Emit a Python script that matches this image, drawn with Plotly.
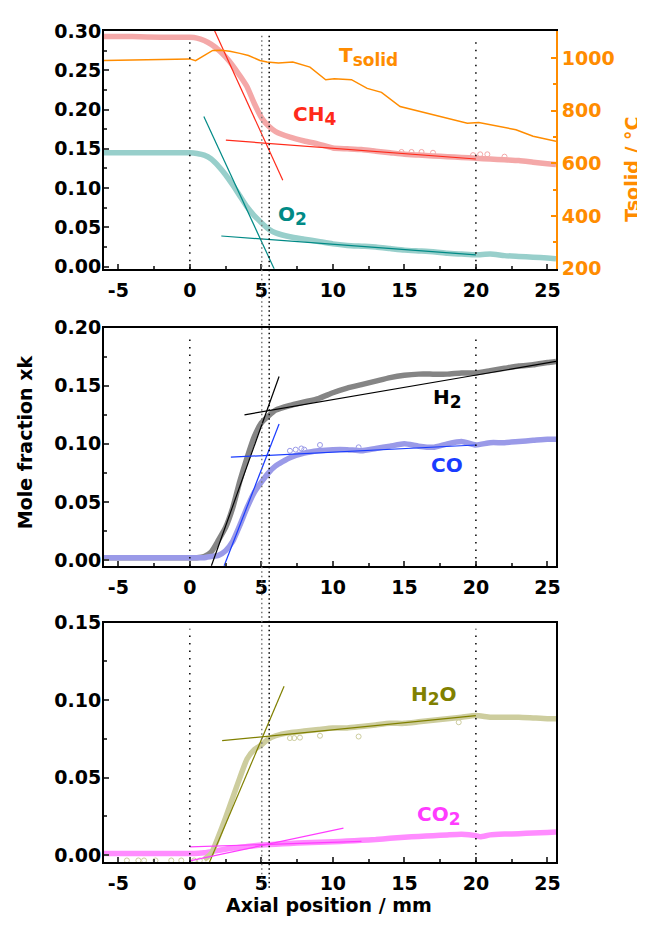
import plotly.graph_objects as go

# ---------------- data ----------------
# top panel: CH4, O2 mole fractions and solid temperature
x_top = [-6, -4, -2, 0, 0.5, 1, 1.5, 2, 2.5, 3, 3.5, 4, 4.5, 5, 5.5, 6, 7, 8, 9, 10,
         11, 12, 13, 14, 15, 16, 17, 18, 19, 20, 21, 22, 23, 24, 25, 25.6]
ch4 = [0.293, 0.293, 0.292, 0.292, 0.291, 0.288, 0.283, 0.276, 0.267, 0.256, 0.243, 0.229,
       0.208, 0.190, 0.179, 0.172, 0.165, 0.160, 0.156, 0.151, 0.150, 0.149, 0.147, 0.145,
       0.143, 0.142, 0.141, 0.140, 0.139, 0.138, 0.137, 0.136, 0.135, 0.133, 0.131, 0.130]
o2 = [0.145, 0.145, 0.145, 0.145, 0.144, 0.142, 0.137, 0.128, 0.117, 0.104, 0.090, 0.076,
      0.065, 0.056, 0.048, 0.043, 0.038, 0.035, 0.032, 0.029, 0.027, 0.026, 0.025, 0.023,
      0.021, 0.020, 0.019, 0.017, 0.016, 0.015, 0.016, 0.014, 0.013, 0.012, 0.011, 0.010]
x_t = [-6, -3, 0, 0.4, 1, 1.6, 2.2, 2.8, 3.5, 4.1, 4.9, 5.4, 6.2, 7.2, 8.4, 9.1, 9.5, 10.1,
       11.3, 12.4, 13.4, 14.7, 17.1, 19.4, 20.2, 21.7, 22.8, 24.0, 25.6]
t_solid = [991, 993, 997, 990, 1010, 1029, 1030, 1026, 1018, 1010, 991, 985, 981, 985, 966,
           935, 918, 922, 918, 885, 870, 816, 785, 753, 755, 741, 728, 703, 684]

# middle panel: H2 and CO
x_mid = [-6, -3, 0, 0.5, 1, 1.5, 2, 2.5, 3, 3.5, 4, 4.5, 5, 5.5, 6, 7, 8, 9, 10, 11, 12,
         13, 14, 15, 16, 17, 18, 19, 20, 21, 22, 23, 24, 25, 25.6]
h2 = [0.002, 0.002, 0.002, 0.002, 0.003, 0.007, 0.017, 0.028, 0.045, 0.068, 0.088, 0.106,
      0.118, 0.124, 0.129, 0.133, 0.136, 0.139, 0.144, 0.148, 0.151, 0.154, 0.157, 0.159,
      0.160, 0.160, 0.160, 0.161, 0.161, 0.163, 0.165, 0.167, 0.168, 0.170, 0.171]
co = [0.002, 0.002, 0.002, 0.002, 0.002, 0.003, 0.004, 0.008, 0.016, 0.030, 0.045, 0.058,
      0.067, 0.075, 0.081, 0.088, 0.092, 0.094, 0.095, 0.095, 0.094, 0.096, 0.098, 0.100,
      0.098, 0.097, 0.100, 0.102, 0.099, 0.101, 0.101, 0.102, 0.103, 0.104, 0.104]

# bottom panel: H2O and CO2
x_bot = [1.0, 1.5, 2, 2.5, 3, 3.5, 4, 4.5, 5, 5.5, 6, 7, 8, 9, 10, 11, 12,
         13, 14, 15, 16, 17, 18, 19, 20, 21, 22, 23, 24, 25, 25.6]
h2o = [-0.003, 0.001, 0.012, 0.024, 0.037, 0.050, 0.062,
       0.068, 0.071, 0.075, 0.077, 0.079, 0.080, 0.081, 0.082, 0.082, 0.083, 0.084, 0.085,
       0.085, 0.086, 0.087, 0.088, 0.089, 0.090, 0.089, 0.089, 0.089, 0.0885, 0.088, 0.088]
h2o_base_x = [-4.4, -3.6, -3.2, -2.4, -1.3, -0.6, 0.3, 0.7]
h2o_base_y = [-0.0035, -0.0035, -0.0035, -0.0035, -0.0035, -0.0035, -0.0035, -0.0035]
x_co2 = [-6, -3, 0, 1, 2, 3, 4, 5, 6, 7, 8, 9, 10, 11, 12, 13, 14, 15, 16, 17, 18, 19, 20,
         20.3, 21, 22, 23, 24, 25, 25.6]
co2 = [0.001, 0.001, 0.001, 0.0015, 0.003, 0.0045, 0.0055, 0.0064, 0.007, 0.0075, 0.008,
       0.0083, 0.0086, 0.009, 0.0095, 0.010, 0.0108, 0.0115, 0.012, 0.0125, 0.013, 0.0134,
       0.0125, 0.0118, 0.013, 0.0135, 0.0138, 0.0142, 0.0146, 0.0149]

# scattered (outlier) measurement points
ch4_out_x = [14.8, 15.5, 16.2, 17.0, 19.8, 20.3, 20.8, 22.0]
ch4_out_y = [0.146, 0.146, 0.146, 0.145, 0.142, 0.143, 0.143, 0.140]
co_out_x = [7.0, 7.4, 7.8, 8.0, 9.1, 11.8]
co_out_y = [0.094, 0.095, 0.096, 0.095, 0.099, 0.097]
h2o_out_x = [7.0, 7.3, 7.7, 9.1, 11.8, 18.8]
h2o_out_y = [0.0755, 0.0755, 0.0758, 0.0770, 0.0765, 0.0857]

# tangent (fit) lines: [start, end]
ch4_steep_x, ch4_steep_y = [1.54, 6.5], [0.308, 0.110]
ch4_flat_x, ch4_flat_y = [2.52, 20.0], [0.161, 0.137]
o2_steep_x, o2_steep_y = [0.98, 5.9], [0.191, -0.003]
o2_flat_x, o2_flat_y = [2.2, 20.0], [0.039, 0.015]
h2_steep_x, h2_steep_y = [1.51, 6.24], [-0.005, 0.158]
h2_flat_x, h2_flat_y = [3.82, 25.6], [0.125, 0.171]
co_steep_x, co_steep_y = [2.4, 6.24], [-0.005, 0.117]
co_flat_x, co_flat_y = [2.87, 20.0], [0.0885, 0.099]
h2o_steep_x, h2o_steep_y = [1.37, 6.59], [-0.0047, 0.109]
h2o_flat_x, h2o_flat_y = [2.26, 20.0], [0.0738, 0.090]
co2_steep_x, co2_steep_y = [0.0, 10.74], [-0.0038, 0.0174]
co2_flat_x, co2_flat_y = [0.0, 12.0], [0.0053, 0.0088]

# reference positions (dotted lines)
zone_marks = [0, 20]
ignition_marks = [5.03, 5.55]

x_range = [-6, 25.6]
x_tickvals = [-5, 0, 5, 10, 15, 20, 25]
x_ticktext = ["-5", "0", "5", "10", "15", "20", "25"]

# ---------------- styling ----------------
FONT = "DejaVu Sans"
C_CH4, C_CH4_B = "#ff2a1a", "#f4a8a8"
C_O2, C_O2_B = "#008a86", "#98cfcb"
C_T = "#ff8c00"
C_H2, C_H2_B = "#000000", "#858585"
C_CO, C_CO_B = "#1a3cff", "#9a9ae8"
C_H2O, C_H2O_B = "#808000", "#cdcd9e"
C_CO2, C_CO2_B = "#ff3cff", "#ff8cff"

fig = go.Figure()


def band(x, y, color, xa, ya):
    fig.add_trace(go.Scatter(x=x, y=y, mode="lines", xaxis=xa, yaxis=ya,
                             line=dict(color=color, width=5.5, shape="spline", smoothing=0.5),
                             showlegend=False, hoverinfo="skip"))


def dots(x, y, color, xa, ya):
    fig.add_trace(go.Scatter(x=x, y=y, mode="markers", xaxis=xa, yaxis=ya,
                             marker=dict(symbol="circle-open", size=5, color=color,
                                         line=dict(width=1)),
                             showlegend=False, hoverinfo="skip"))


def fit(x, y, color, xa, ya):
    fig.add_trace(go.Scatter(x=x, y=y, mode="lines", xaxis=xa, yaxis=ya,
                             line=dict(color=color, width=1.2),
                             showlegend=False, hoverinfo="skip"))


# top panel
band(x_top, ch4, C_CH4_B, "x", "y")
band(x_top, o2, C_O2_B, "x", "y")
dots(ch4_out_x, ch4_out_y, C_CH4_B, "x", "y")
fit(ch4_steep_x, ch4_steep_y, C_CH4, "x", "y")
fit(ch4_flat_x, ch4_flat_y, C_CH4, "x", "y")
fit(o2_steep_x, o2_steep_y, C_O2, "x", "y")
fit(o2_flat_x, o2_flat_y, C_O2, "x", "y")
fig.add_trace(go.Scatter(x=x_t, y=t_solid, mode="lines", xaxis="x", yaxis="y2",
                         line=dict(color=C_T, width=1.5), showlegend=False, hoverinfo="skip"))

# middle panel
band(x_mid, h2, C_H2_B, "x2", "y3")
band(x_mid, co, C_CO_B, "x2", "y3")
dots(co_out_x, co_out_y, C_CO_B, "x2", "y3")
fit(h2_steep_x, h2_steep_y, C_H2, "x2", "y3")
fit(h2_flat_x, h2_flat_y, C_H2, "x2", "y3")
fit(co_steep_x, co_steep_y, C_CO, "x2", "y3")
fit(co_flat_x, co_flat_y, C_CO, "x2", "y3")

# bottom panel
band(x_co2, co2, C_CO2_B, "x3", "y4")
band(x_bot, h2o, C_H2O_B, "x3", "y4")
dots(h2o_base_x, h2o_base_y, C_H2O_B, "x3", "y4")
dots(h2o_out_x, h2o_out_y, C_H2O_B, "x3", "y4")
fit(h2o_steep_x, h2o_steep_y, C_H2O, "x3", "y4")
fit(h2o_flat_x, h2o_flat_y, C_H2O, "x3", "y4")
fit(co2_steep_x, co2_steep_y, C_CO2, "x3", "y4")
fit(co2_flat_x, co2_flat_y, C_CO2, "x3", "y4")

tickfont = dict(family=FONT, size=19, color="black", weight="bold")

xcommon = dict(range=x_range, tickmode="array", tickvals=x_tickvals, ticktext=x_ticktext,
               ticks="inside", ticklen=5, tickwidth=1.5, ticklabelstandoff=3,
               minor=dict(ticks="inside", ticklen=3, tick0=0, dtick=2.5, tickwidth=1.5),
               showline=True, linewidth=2, linecolor="black", mirror=True,
               showgrid=False, zeroline=False, tickfont=tickfont)
ycommon = dict(ticks="inside", ticklen=5, tickwidth=1.5, tick0=0, dtick=0.05,
               tickformat=".2f", ticklabelstandoff=-3,
               minor=dict(ticks="inside", ticklen=3, dtick=0.025, tickwidth=1.5),
               showline=True, linewidth=2, linecolor="black",
               showgrid=False, zeroline=False, tickfont=tickfont)

# page body has an 8 px margin: the figure is sized so the plot areas land where
# the reference has them inside the 645 x 928 window
fig.update_layout(
    width=637, height=920,
    margin=dict(l=96, r=89, t=14, b=66),
    paper_bgcolor="white", plot_bgcolor="white",
    font=dict(family=FONT, size=19, color="black"),
    xaxis=dict(domain=[0, 1], anchor="y", **xcommon),
    yaxis=dict(domain=[0.7139, 1], anchor="x", range=[-0.0027, 0.3], mirror=False, **ycommon),
    yaxis2=dict(overlaying="y", side="right", anchor="x", range=[200, 1103],
                tick0=200, dtick=200, ticks="inside", ticklen=5, tickwidth=1.5,
                tickcolor=C_T,
                minor=dict(ticks="inside", ticklen=3, dtick=100, tickwidth=1.5, tickcolor=C_T),
                showline=True, linewidth=2, linecolor=C_T, showgrid=False, zeroline=False,
                tickfont=dict(family=FONT, size=19, color=C_T, weight="bold")),
    xaxis2=dict(domain=[0, 1], anchor="y3", **xcommon),
    yaxis3=dict(domain=[0.3563, 0.643], anchor="x2", range=[-0.0051, 0.2], mirror=True, **ycommon),
    xaxis3=dict(domain=[0, 1], anchor="y4", **xcommon),
    yaxis4=dict(domain=[0, 0.288], anchor="x3", range=[-0.0045, 0.15], mirror=True, **ycommon),
)

# dotted reference lines
shapes = []
for ya in ["y", "y3", "y4"]:
    xa = {"y": "x", "y3": "x2", "y4": "x3"}[ya]
    for xv in zone_marks:
        shapes.append(dict(type="line", xref=xa, yref=ya + " domain", x0=xv, x1=xv, y0=0, y1=0.975,
                           line=dict(color="black", width=1.5, dash="1.5px,6px")))
for xv, col in zip(ignition_marks, ["#777777", "black"]):
    shapes.append(dict(type="line", xref="x", yref="paper", x0=xv, x1=xv, y0=-0.031, y1=0.996,
                       line=dict(color=col, width=1.5, dash="1.5px,3px")))
fig.update_layout(shapes=shapes)

lab = dict(family=FONT, size=20, weight="bold")
ann = [
    dict(text="T<sub><span style='font-size:17px'>solid</span></sub>", x=12.5, y=0.2676,
         xref="x", yref="y", font=dict(lab, color=C_T)),
    dict(text="CH<sub><span style='font-size:17px'>4</span></sub>", x=8.7, y=0.1925,
         xref="x", yref="y", font=dict(lab, color=C_CH4)),
    dict(text="O<sub><span style='font-size:17px'>2</span></sub>", x=7.2, y=0.0656,
         xref="x", yref="y", font=dict(lab, color=C_O2)),
    dict(text="H<sub><span style='font-size:17px'>2</span></sub>", x=18.0, y=0.139,
         xref="x2", yref="y3", font=dict(lab, color=C_H2)),
    dict(text="CO", x=17.96, y=0.082, xref="x2", yref="y3", font=dict(lab, color=C_CO)),
    dict(text="H<sub><span style='font-size:17px'>2</span></sub>O", x=17.1, y=0.1031,
         xref="x3", yref="y4", font=dict(lab, color=C_H2O)),
    dict(text="CO<sub><span style='font-size:17px'>2</span></sub>", x=17.4, y=0.0252,
         xref="x3", yref="y4", font=dict(lab, color=C_CO2)),
    dict(text="Mole fraction xk", x=-0.175, y=0.505, xref="paper", yref="paper",
         textangle=-90, font=dict(family=FONT, size=19, weight="bold", color="black")),
    dict(text="Tsolid / °C", x=1.1675, y=0.834, xref="paper", yref="paper",
         textangle=-90, font=dict(family=FONT, size=19, weight="bold", color=C_T)),
    dict(text="Axial position / mm", x=0.498, y=-0.052, xref="paper", yref="paper",
         font=dict(family=FONT, size=19, weight="bold", color="black")),
]
for a in ann:
    a.setdefault("showarrow", False)
    a.setdefault("xanchor", "center")
    a.setdefault("yanchor", "middle")
fig.update_layout(annotations=ann)

fig.write_html("out.html")
